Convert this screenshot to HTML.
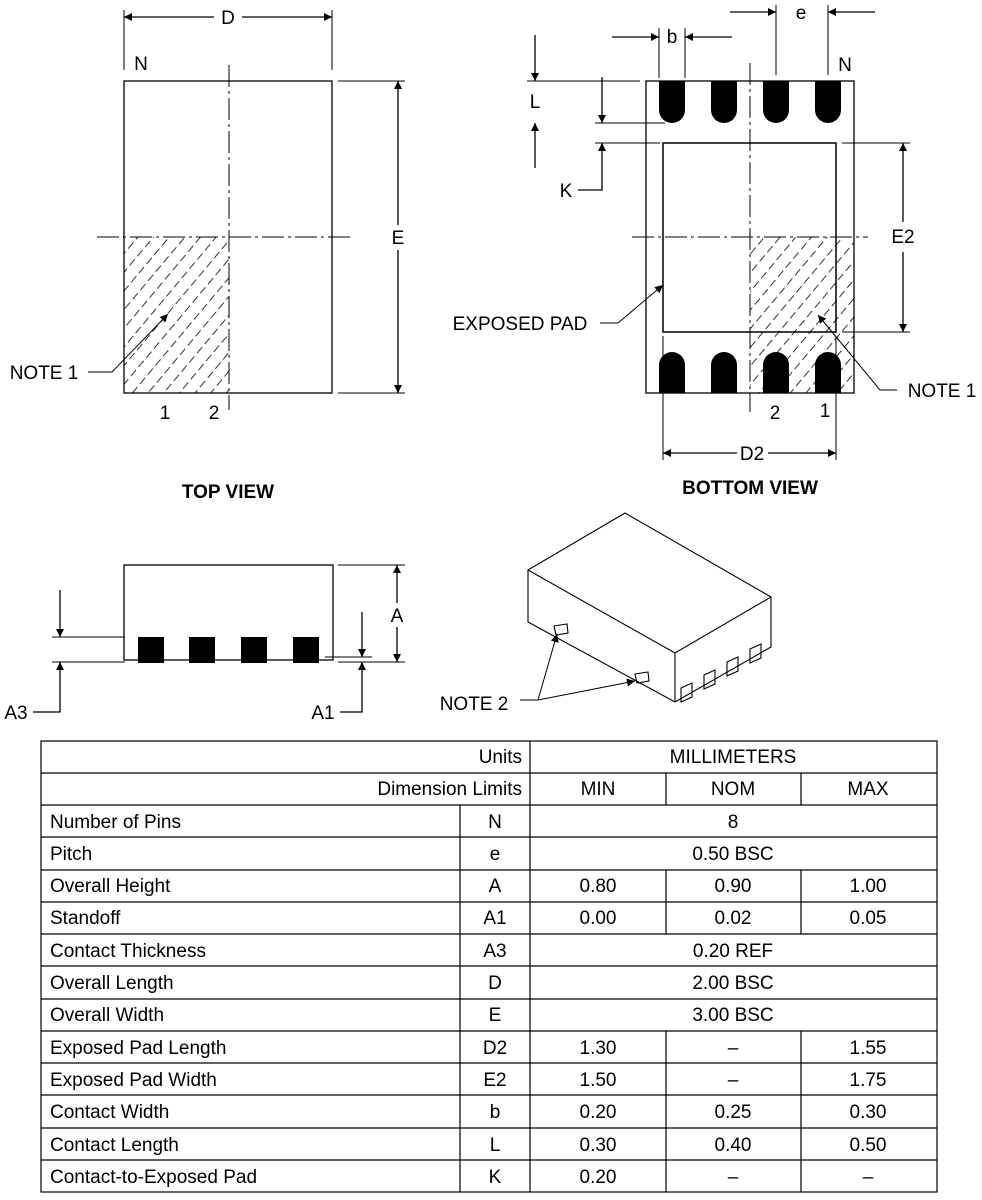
<!DOCTYPE html>
<html><head><meta charset="utf-8"><style>
html,body{margin:0;padding:0;background:#fff;}
svg{display:block;font-family:"Liberation Sans",sans-serif;}
</style></head><body>
<svg width="982" height="1200" viewBox="0 0 982 1200" xmlns="http://www.w3.org/2000/svg">
<defs>
<pattern id="h" patternUnits="userSpaceOnUse" width="12" height="12" patternTransform="rotate(-50)">
<line x1="0" y1="6" x2="12" y2="6" stroke="#000" stroke-width="0.8" stroke-dasharray="8 4"/>
</pattern>
<marker id="a" viewBox="0 0 10 10" refX="10" refY="5" markerWidth="18" markerHeight="8" orient="auto-start-reverse" markerUnits="userSpaceOnUse"><path d="M0,0 L10,5 L0,10 z" fill="#000"/></marker>
</defs>
<g stroke="#000" fill="none" stroke-width="1.3">
<!-- TOP VIEW -->
<rect x="124" y="237" width="105" height="156" fill="url(#h)" stroke="none"/>
<rect x="124" y="81" width="208" height="312"/>
<line x1="229" y1="65" x2="229" y2="410" stroke-dasharray="22 4 3 4" stroke-width="1"/>
<line x1="97" y1="237" x2="352" y2="237" stroke-dasharray="22 4 3 4" stroke-width="1"/>
<line x1="124" y1="10" x2="124" y2="70" stroke-width="1"/>
<line x1="332" y1="10" x2="332" y2="70" stroke-width="1"/>
<line x1="214" y1="17" x2="124" y2="17" marker-end="url(#a)"/>
<line x1="242" y1="17" x2="332" y2="17" marker-end="url(#a)"/>
<line x1="338" y1="81" x2="405" y2="81" stroke-width="1"/>
<line x1="338" y1="393" x2="405" y2="393" stroke-width="1"/>
<line x1="398" y1="225" x2="398" y2="81" marker-end="url(#a)"/>
<line x1="398" y1="250" x2="398" y2="393" marker-end="url(#a)"/>
<polyline points="88,372 112,372 168,314" marker-end="url(#a)" stroke-width="1"/>
<!-- BOTTOM VIEW -->
<rect x="750" y="237" width="104" height="156" fill="url(#h)" stroke="none"/>
<rect x="646" y="81" width="208" height="312"/>
<rect x="663" y="143" width="173" height="189" stroke-width="1.5"/>
<line x1="750" y1="63" x2="750" y2="412" stroke-dasharray="22 4 3 4" stroke-width="1"/>
<line x1="632" y1="237" x2="868" y2="237" stroke-dasharray="22 4 3 4" stroke-width="1"/>
<g fill="#000" stroke="none">
<path d="M659,81 h26 v29 a13,13 0 0 1 -26,0z"/>
<path d="M711,81 h26 v29 a13,13 0 0 1 -26,0z"/>
<path d="M763,81 h26 v29 a13,13 0 0 1 -26,0z"/>
<path d="M815,81 h26 v29 a13,13 0 0 1 -26,0z"/>
<path d="M659,393 h26 v-28 a13,13 0 0 0 -26,0z"/>
<path d="M711,393 h26 v-28 a13,13 0 0 0 -26,0z"/>
<path d="M763,393 h26 v-28 a13,13 0 0 0 -26,0z"/>
<path d="M815,393 h26 v-28 a13,13 0 0 0 -26,0z"/>
</g>
<g stroke-width="1">
<line x1="659" y1="28" x2="659" y2="78"/><line x1="685" y1="28" x2="685" y2="78"/>
<line x1="776" y1="5" x2="776" y2="75"/><line x1="828" y1="5" x2="828" y2="75"/>
<line x1="527" y1="81" x2="640" y2="81"/><line x1="595" y1="123" x2="665" y2="123"/>
<line x1="595" y1="143" x2="660" y2="143"/>
<line x1="842" y1="143" x2="910" y2="143"/><line x1="842" y1="332" x2="910" y2="332"/>
<line x1="663" y1="336" x2="663" y2="460"/><line x1="836" y1="336" x2="836" y2="460"/>
</g>
<line x1="612" y1="37" x2="659" y2="37" marker-end="url(#a)"/>
<line x1="732" y1="37" x2="685" y2="37" marker-end="url(#a)"/>
<line x1="730" y1="12" x2="776" y2="12" marker-end="url(#a)"/>
<line x1="875" y1="12" x2="828" y2="12" marker-end="url(#a)"/>
<line x1="535" y1="35" x2="535" y2="81" marker-end="url(#a)"/>
<line x1="535" y1="168" x2="535" y2="123" marker-end="url(#a)"/>
<line x1="602" y1="77" x2="602" y2="123" marker-end="url(#a)"/>
<polyline points="578,190 602,190 602,143" marker-end="url(#a)"/>
<line x1="903" y1="222" x2="903" y2="143" marker-end="url(#a)"/>
<line x1="903" y1="252" x2="903" y2="332" marker-end="url(#a)"/>
<line x1="737" y1="453" x2="663" y2="453" marker-end="url(#a)"/>
<line x1="768" y1="453" x2="836" y2="453" marker-end="url(#a)"/>
<polyline points="600,323 618,323 663,285" marker-end="url(#a)" stroke-width="1"/>
<polyline points="897,390 880,390 818,315" marker-end="url(#a)" stroke-width="1"/>
<!-- SIDE VIEW -->
<rect x="124" y="565" width="209" height="95"/>
<g fill="#000" stroke="none">
<rect x="138" y="637" width="26" height="26"/><rect x="189" y="637" width="26" height="26"/>
<rect x="241" y="637" width="26" height="26"/><rect x="293" y="637" width="26" height="26"/>
</g>
<g stroke-width="1">
<line x1="338" y1="565" x2="405" y2="565"/><line x1="338" y1="662" x2="405" y2="662"/>
<line x1="52" y1="637" x2="125" y2="637"/><line x1="52" y1="662" x2="125" y2="662"/>
<line x1="325" y1="657" x2="372" y2="657"/>
</g>
<line x1="397" y1="603" x2="397" y2="565" marker-end="url(#a)"/>
<line x1="397" y1="627" x2="397" y2="662" marker-end="url(#a)"/>
<line x1="60" y1="590" x2="60" y2="637" marker-end="url(#a)"/>
<polyline points="33,712 60,712 60,662" marker-end="url(#a)"/>
<line x1="362" y1="612" x2="362" y2="657" marker-end="url(#a)"/>
<polyline points="340,712 362,712 362,662" marker-end="url(#a)"/>
<!-- 3D -->
<g stroke-width="1.1">
<polygon points="625,513 771,597 675,653 528,570"/>
<polyline points="528,570 528,622 675,702 771,647 771,597"/>
<line x1="675" y1="653" x2="675" y2="702"/>
<polygon points="554,626 567,624 568,633 556,635"/>
<polygon points="635,674 648,672 649,681 637,683"/>
<polygon points="681,688 692,683 692,697 681,702"/>
<polygon points="704,675 715,670 715,684 704,689"/>
<polygon points="727,662 738,657 738,671 727,676"/>
<polygon points="750,649 761,644 761,658 750,663"/>
</g>
<polyline points="520,700 538,700 557,634" marker-end="url(#a)" stroke-width="1"/>
<line x1="538" y1="700" x2="635" y2="681" marker-end="url(#a)" stroke-width="1"/>
<!-- TABLE -->
<g stroke-width="1.2">
<rect x="41" y="741" width="896" height="451"/>
<line x1="41" y1="773" x2="937" y2="773"/>
<line x1="530" y1="741" x2="530" y2="1192"/>
<line x1="666" y1="773" x2="666" y2="805"/><line x1="801" y1="773" x2="801" y2="805"/>
<line x1="460" y1="805" x2="460" y2="1192"/>
<line x1="666" y1="870" x2="666" y2="934"/><line x1="801" y1="870" x2="801" y2="934"/>
<line x1="666" y1="1031" x2="666" y2="1192"/><line x1="801" y1="1031" x2="801" y2="1192"/>
</g>
<g stroke-width="1.2">
<line x1="41" y1="805" x2="937" y2="805"/><line x1="41" y1="837" x2="937" y2="837"/>
<line x1="41" y1="870" x2="937" y2="870"/><line x1="41" y1="902" x2="937" y2="902"/>
<line x1="41" y1="934" x2="937" y2="934"/><line x1="41" y1="966" x2="937" y2="966"/>
<line x1="41" y1="999" x2="937" y2="999"/><line x1="41" y1="1031" x2="937" y2="1031"/>
<line x1="41" y1="1063" x2="937" y2="1063"/><line x1="41" y1="1095" x2="937" y2="1095"/>
<line x1="41" y1="1128" x2="937" y2="1128"/><line x1="41" y1="1160" x2="937" y2="1160"/>
</g>
</g>
<g font-size="19" fill="#000" text-anchor="middle">
<text x="228" y="24">D</text>
<text x="141" y="70">N</text>
<text x="398" y="244">E</text>
<text x="165" y="419">1</text><text x="214" y="419">2</text>
<text x="44" y="379">NOTE 1</text>
<text x="228" y="498" font-weight="bold">TOP VIEW</text>
<text x="672" y="43">b</text>
<text x="801" y="19">e</text>
<text x="845" y="71">N</text>
<text x="535" y="108">L</text>
<text x="566" y="197">K</text>
<text x="903" y="243">E2</text>
<text x="520" y="330">EXPOSED PAD</text>
<text x="942" y="397">NOTE 1</text>
<text x="775" y="419">2</text><text x="825" y="417">1</text>
<text x="752" y="460">D2</text>
<text x="750" y="494" font-weight="bold">BOTTOM VIEW</text>
<text x="397" y="622">A</text>
<text x="16" y="719">A3</text>
<text x="323" y="719">A1</text>
<text x="474" y="710">NOTE 2</text>
</g>
<g font-size="19" fill="#000">
<g text-anchor="end"><text x="522" y="763">Units</text><text x="522" y="795">Dimension Limits</text></g>
<g text-anchor="middle">
<text x="733" y="763">MILLIMETERS</text>
<text x="598" y="795">MIN</text><text x="733" y="795">NOM</text><text x="868" y="795">MAX</text>
<text x="495" y="828">N</text><text x="733" y="828">8</text>
<text x="495" y="860">e</text><text x="733" y="860">0.50 BSC</text>
<text x="495" y="892">A</text><text x="598" y="892">0.80</text><text x="733" y="892">0.90</text><text x="868" y="892">1.00</text>
<text x="495" y="924">A1</text><text x="598" y="924">0.00</text><text x="733" y="924">0.02</text><text x="868" y="924">0.05</text>
<text x="495" y="957">A3</text><text x="733" y="957">0.20 REF</text>
<text x="495" y="989">D</text><text x="733" y="989">2.00 BSC</text>
<text x="495" y="1021">E</text><text x="733" y="1021">3.00 BSC</text>
<text x="495" y="1054">D2</text><text x="598" y="1054">1.30</text><text x="733" y="1054">–</text><text x="868" y="1054">1.55</text>
<text x="495" y="1086">E2</text><text x="598" y="1086">1.50</text><text x="733" y="1086">–</text><text x="868" y="1086">1.75</text>
<text x="495" y="1118">b</text><text x="598" y="1118">0.20</text><text x="733" y="1118">0.25</text><text x="868" y="1118">0.30</text>
<text x="495" y="1151">L</text><text x="598" y="1151">0.30</text><text x="733" y="1151">0.40</text><text x="868" y="1151">0.50</text>
<text x="495" y="1183">K</text><text x="598" y="1183">0.20</text><text x="733" y="1183">–</text><text x="868" y="1183">–</text>
</g>
<g>
<text x="50" y="828">Number of Pins</text>
<text x="50" y="860">Pitch</text>
<text x="50" y="892">Overall Height</text>
<text x="50" y="924">Standoff</text>
<text x="50" y="957">Contact Thickness</text>
<text x="50" y="989">Overall Length</text>
<text x="50" y="1021">Overall Width</text>
<text x="50" y="1054">Exposed Pad Length</text>
<text x="50" y="1086">Exposed Pad Width</text>
<text x="50" y="1118">Contact Width</text>
<text x="50" y="1151">Contact Length</text>
<text x="50" y="1183">Contact-to-Exposed Pad</text>
</g>
</g>
</svg>
</body></html>
